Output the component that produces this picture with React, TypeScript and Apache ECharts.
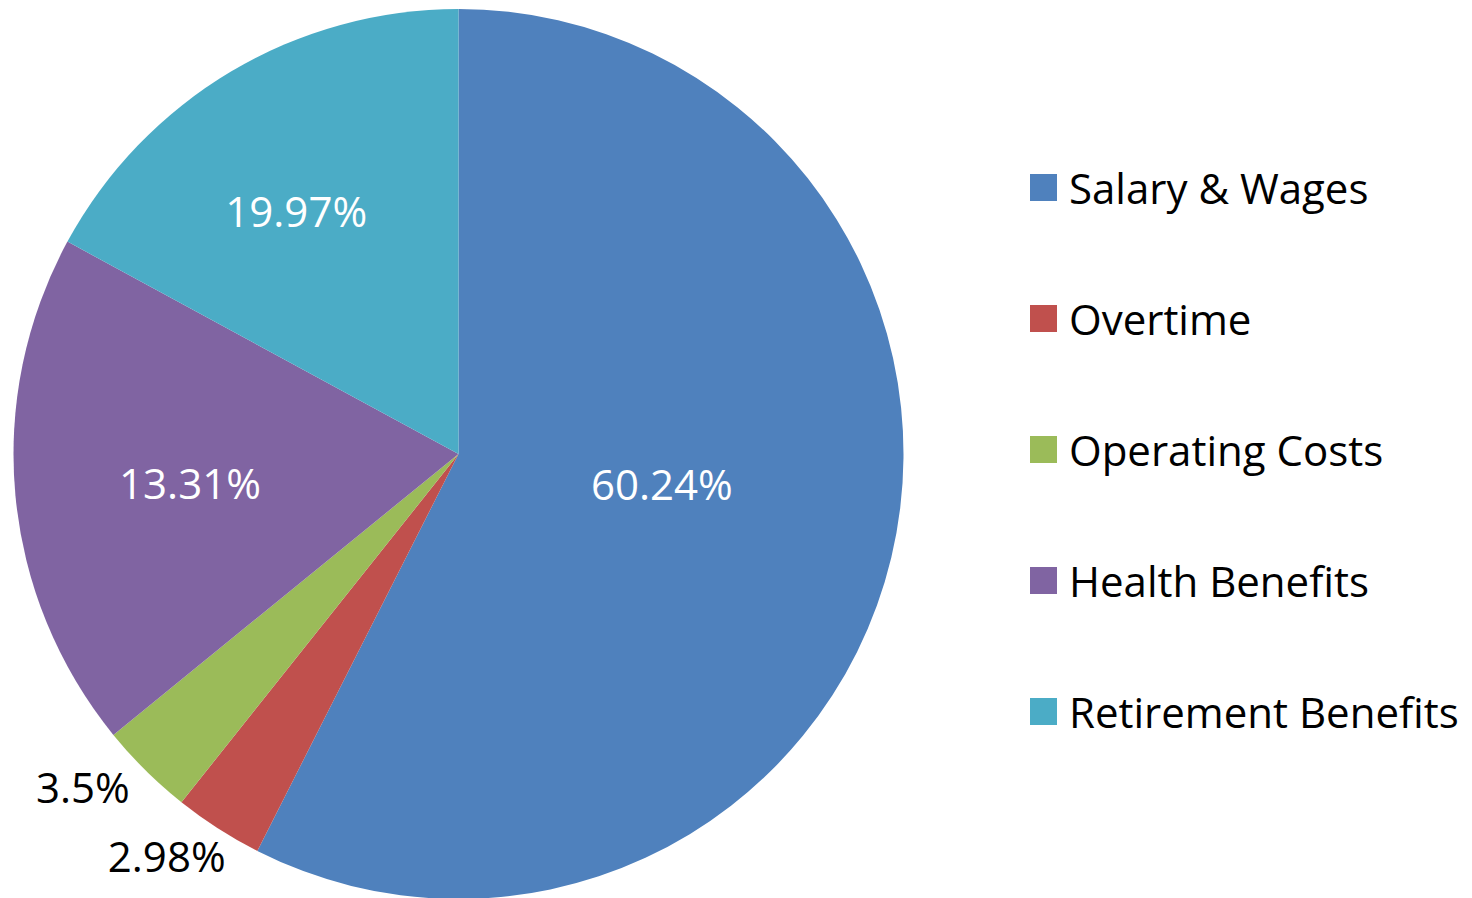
import React, { useEffect, useRef } from "react";
import * as echarts from "echarts";

const categories = ["Salary & Wages", "Overtime", "Operating Costs", "Health Benefits", "Retirement Benefits"];
// slice shares as drawn in the picture (angles)
const sliceShares = [57.46, 3.23, 3.43, 18.79, 17.08];
// percentage labels printed on the chart
const labelTexts = ["60.24%", "2.98%", "3.5%", "13.31%", "19.97%"];
const colors = ["#4F81BD", "#C0504D", "#9BBB59", "#8064A2", "#4BACC6"];
const labelColors = ["#FFFFFF", "#000000", "#000000", "#FFFFFF", "#FFFFFF"];
const labelOffsets: [number, number][] = [[-16, -23], [-170, 212], [-217, 172], [-44, 8], [-47, -50]];

export default function App() {
  const ref = useRef<HTMLDivElement>(null);
  useEffect(() => {
    if (!ref.current) return;
    const chart = echarts.init(ref.current, undefined, { renderer: "svg" });
    chart.setOption({
      animation: false,
      backgroundColor: "#FFFFFF",
      textStyle: { fontFamily: "Open Sans" },
      legend: {
        orient: "vertical",
        left: 1025,
        top: 157.5,
        itemWidth: 27,
        itemHeight: 27,
        itemGap: 81,
        icon: "rect",
        data: categories,
        textStyle: {
          fontFamily: "Open Sans",
          fontSize: 42,
          color: "#000000",
          lineHeight: 50,
          padding: [0, 0, 0, 7],
        },
      },
      series: [
        {
          type: "pie",
          center: [458.5, 454],
          radius: [0, 445],
          startAngle: 90,
          clockwise: true,
          avoidLabelOverlap: false,
          labelLine: { show: false },
          itemStyle: { borderWidth: 0 },
          emphasis: { disabled: true },
          label: {
            show: true,
            position: "inside",
            fontFamily: "Open Sans",
            fontSize: 42,
            formatter: (p: any) => labelTexts[p.dataIndex],
          },
          data: categories.map((name, i) => ({
            name,
            value: sliceShares[i],
            itemStyle: { color: colors[i] },
            label: { color: labelColors[i], offset: labelOffsets[i] },
          })),
        },
      ],
    });
    return () => chart.dispose();
  }, []);
  return <div ref={ref} style={{ position: "fixed", left: 0, top: 0, width: 1472, height: 898 }} />;
}
